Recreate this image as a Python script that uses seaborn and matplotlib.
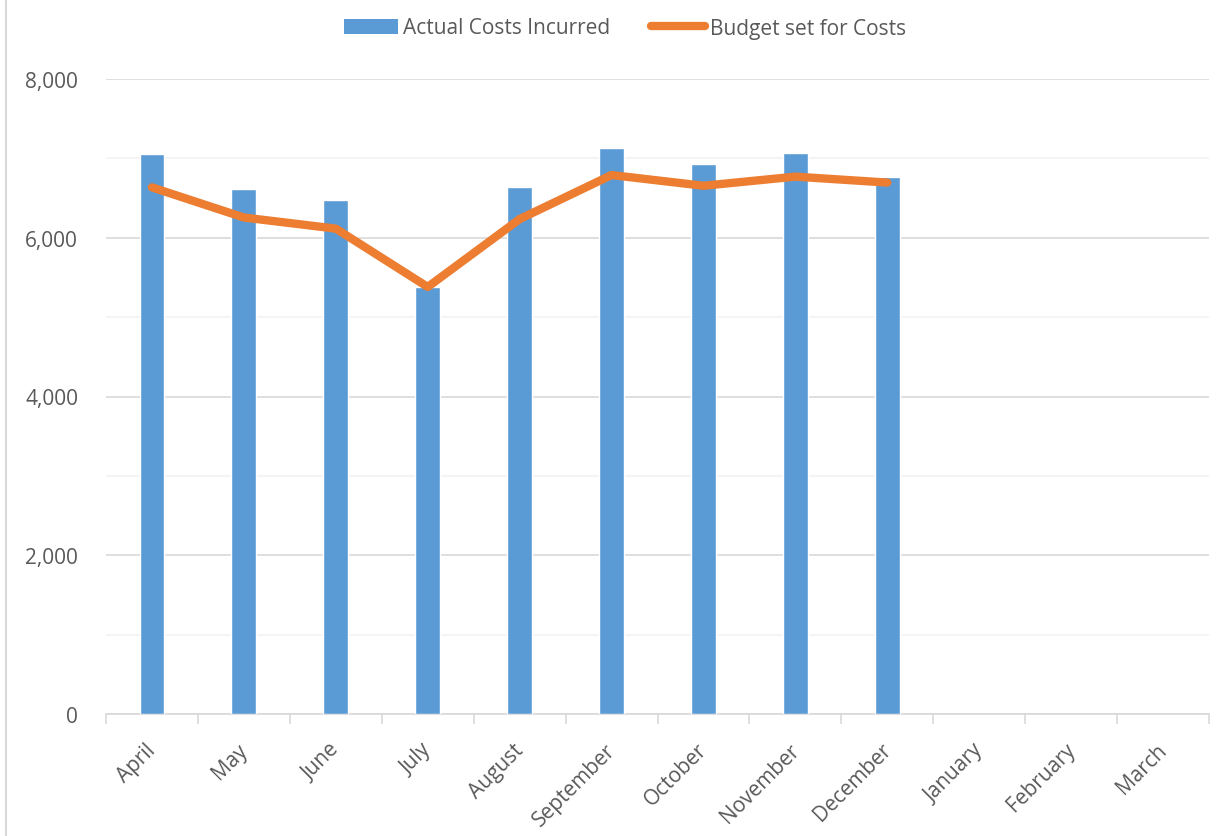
import numpy as np
import pandas as pd
import matplotlib
matplotlib.use("Agg")
import matplotlib.pyplot as plt
import matplotlib.transforms as mtransforms
from matplotlib.lines import Line2D
from matplotlib.patches import Patch
from matplotlib.ticker import FuncFormatter, MultipleLocator, FixedLocator
import seaborn as sns

months = ["April", "May", "June", "July", "August", "September", "October",
          "November", "December", "January", "February", "March"]
actual_months = months[:9]
actual_costs = [7050, 6610, 6470, 5380, 6640, 7125, 6935, 7065, 6760]
budget_costs = [6635, 6255, 6115, 5380, 6235, 6790, 6655, 6770, 6695]
y_ticks = [0, 2000, 4000, 6000, 8000]

sns.set_theme(style="white")
plt.rcParams['font.family'] = ['Open Sans', 'DejaVu Sans']

BLUE = "#5B9BD5"
ORANGE = "#ED7D31"
TXT = "#595959"

fig = plt.figure(figsize=(12.25, 8.37), dpi=100)
ax = fig.add_axes([106/1225, 1-715/837, (1209-106)/1225, (715-80)/837])

df_a = pd.DataFrame({"month": actual_months, "cost": actual_costs})
sns.barplot(data=df_a, x="month", y="cost", order=months, color=BLUE,
            width=0.27, saturation=1, ax=ax, zorder=3)
df_b = pd.DataFrame({"pos": np.arange(len(budget_costs)), "budget": budget_costs})
sns.lineplot(data=df_b, x="pos", y="budget", color=ORANGE, linewidth=6,
             ax=ax, zorder=4, solid_capstyle="round", solid_joinstyle="round")

ax.set_xlim(-0.5, len(months) - 0.5)
ax.set_ylim(0, 8000)
ax.set_xlabel("")
ax.set_ylabel("")

# gridlines
ax.yaxis.set_major_locator(FixedLocator(y_ticks))
ax.yaxis.set_minor_locator(MultipleLocator(1000))
ax.grid(axis="y", which="major", color="#d9d9d9", linewidth=1.2, zorder=0)
ax.grid(axis="y", which="minor", color="#f2f2f2", linewidth=1.2, zorder=0)
ax.set_axisbelow(True)
ax.yaxis.set_major_formatter(FuncFormatter(lambda v, p: f"{int(v):,}"))
ax.tick_params(axis="y", which="both", length=0, pad=20, labelsize=15, labelcolor=TXT)

# x axis
ax.set_xticks(np.arange(len(months)))
ax.set_xticklabels(months, rotation=45, ha="right", fontsize=15, color=TXT)
ax.xaxis.set_minor_locator(FixedLocator(np.arange(len(months) + 1) - 0.5))
ax.tick_params(axis="x", which="major", length=0, pad=18)
ax.tick_params(axis="x", which="minor", length=7, width=1.2, color="#d9d9d9",
               direction="out", bottom=True)
offset = mtransforms.ScaledTranslation(8/100, 0, fig.dpi_scale_trans)
for label in ax.get_xticklabels():
    label.set_transform(label.get_transform() + offset)

for s in ["top", "right", "left"]:
    ax.spines[s].set_visible(False)
ax.spines["bottom"].set_color("#d9d9d9")
ax.spines["bottom"].set_linewidth(1.2)

handles = [Patch(facecolor=BLUE, edgecolor="none", label="Actual Costs Incurred"),
           Line2D([0], [0], color=ORANGE, linewidth=6, solid_capstyle="round",
                  label="Budget set for Costs")]
leg = fig.legend(handles=handles, loc="center", bbox_to_anchor=(625/1225, 1-29/837),
                 ncol=2, frameon=False, fontsize=15, handlelength=2.6,
                 handletextpad=0.2, columnspacing=2.0)
for t in leg.get_texts():
    t.set_color(TXT)

fig.add_artist(Line2D([6/1225, 6/1225], [0, 1], transform=fig.transFigure,
                      color="#d9d9d9", linewidth=1.5))

fig.savefig("out.png", dpi=100, facecolor="white")
